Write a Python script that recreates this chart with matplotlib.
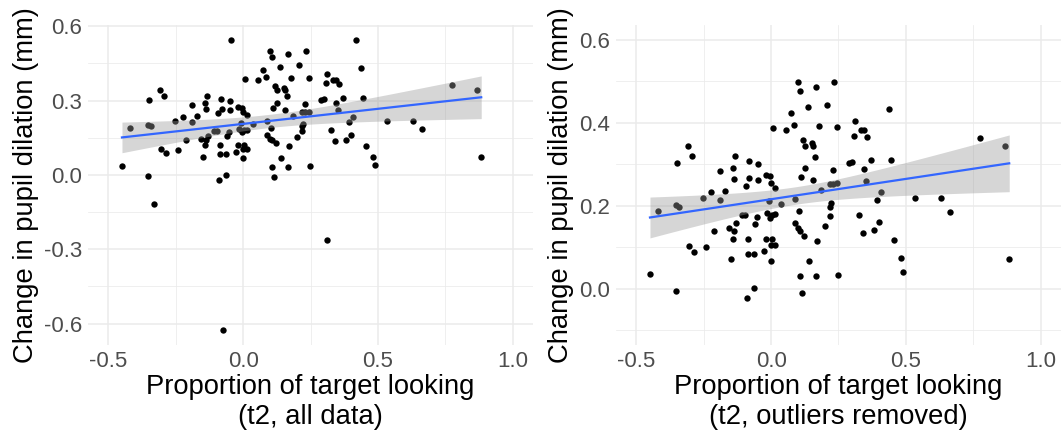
# scatter of pupil dilation vs target looking, with lm fit and 95% band

import matplotlib
matplotlib.use("Agg")
import numpy as np
import matplotlib.pyplot as plt
from matplotlib.ticker import MultipleLocator

plt.rcParams["font.family"] = ["Liberation Sans", "DejaVu Sans"]

# proportion of target looking (t2) and change in pupil dilation (mm), outliers removed
x_clean = [-0.449, -0.421, -0.354, -0.354, -0.343, -0.348, -0.309, -0.293, -0.305, -0.285,
           -0.253, -0.241, -0.224, -0.211, -0.191, -0.188, -0.172, -0.155, -0.149, -0.142,
           -0.138, -0.134, -0.142, -0.137, -0.129, -0.108, -0.097, -0.094, -0.083, -0.080,
           -0.085, -0.087, -0.065, -0.089, -0.065, -0.059, -0.052, -0.049, -0.050, -0.025,
           -0.018, -0.018, -0.014, -0.009, -0.004, -0.001, -0.005, -0.001, 0.001, 0.004,
           0.006, 0.005, 0.014, 0.016, 0.016, 0.035, 0.055, 0.074, 0.084, 0.087,
           0.090, 0.098, 0.108, 0.104, 0.099, 0.106, 0.108, 0.112, 0.116, 0.119,
           0.124, 0.121, 0.124, 0.138, 0.142, 0.152, 0.155, 0.157, 0.162, 0.167,
           0.168, 0.172, 0.176, 0.186, 0.201, 0.206, 0.219, 0.221, 0.219, 0.219,
           0.231, 0.234, 0.231, 0.246, 0.249, 0.244, 0.288, 0.300, 0.307, 0.310,
           0.325, 0.335, 0.344, 0.340, 0.345, 0.352, 0.356, 0.369, 0.381, 0.391,
           0.399, 0.407, 0.436, 0.445, 0.456, 0.481, 0.491, 0.535, 0.629, 0.663,
           0.773, 0.866, 0.883]
y_clean = [0.037, 0.188, -0.004, 0.201, 0.196, 0.304, 0.344, 0.320, 0.103, 0.089,
           0.219, 0.100, 0.232, 0.140, 0.283, 0.215, 0.236, 0.146, 0.073, 0.290,
           0.264, 0.319, 0.121, 0.140, 0.158, 0.178, 0.177, 0.248, 0.307, 0.266,
           0.119, 0.085, 0.084, -0.021, 0.001, 0.157, 0.172, 0.263, 0.300, 0.091,
           0.119, 0.275, 0.183, 0.211, 0.271, 0.255, 0.171, 0.067, 0.105, 0.121,
           0.387, 0.179, 0.105, 0.242, 0.180, 0.205, 0.383, 0.423, 0.395, 0.159,
           0.217, 0.499, 0.477, 0.188, 0.146, 0.140, 0.030, 0.269, -0.009, 0.359,
           0.344, 0.127, 0.291, 0.437, 0.066, 0.351, 0.343, 0.263, 0.317, 0.032,
           0.486, 0.116, 0.391, 0.238, 0.152, 0.443, 0.176, 0.207, 0.197, 0.252,
           0.285, 0.499, 0.253, 0.389, 0.034, 0.254, 0.304, 0.306, 0.369, 0.405,
           0.179, 0.383, 0.383, 0.135, 0.288, 0.260, 0.366, 0.309, 0.142, 0.214,
           0.162, 0.233, 0.432, 0.309, 0.117, 0.074, 0.041, 0.218, 0.218, 0.185,
           0.364, 0.344, 0.071]

# the points that were dropped as outliers
x_outliers = [-0.044, 0.418, -0.073, 0.310, -0.329]
y_outliers = [0.544, 0.546, -0.628, -0.262, -0.118]

x_all = x_clean + x_outliers
y_all = y_clean + y_outliers

x_ticks = [-0.5, 0.0, 0.5, 1.0]
y_ticks_all = [-0.6, -0.3, 0.0, 0.3, 0.6]
y_ticks_clean = [0.0, 0.2, 0.4, 0.6]

t_crit = 1.979  # t quantile for 95% band, df about 125


def lm_band(x, y):
    # straight line fit and its 95% confidence band
    x = np.asarray(x)
    y = np.asarray(y)
    n = len(x)
    slope, intercept = np.polyfit(x, y, 1)
    resid = y - (intercept + slope * x)
    s = np.sqrt(np.sum(resid ** 2) / (n - 2))
    sxx = np.sum((x - x.mean()) ** 2)
    xs = np.linspace(x.min(), x.max(), 80)
    fit = intercept + slope * xs
    se = s * np.sqrt(1 / n + (xs - x.mean()) ** 2 / sxx)
    return xs, fit, fit - t_crit * se, fit + t_crit * se


def draw_panel(ax, x, y, y_ticks, y_minor, ylim, xlabel):
    ax.scatter(x, y, s=21, color="black", linewidths=0, zorder=2)
    xs, fit, lo, hi = lm_band(x, y)
    ax.fill_between(xs, lo, hi, color="#999999", alpha=0.4, linewidth=0, zorder=3)
    ax.plot(xs, fit, color="#3366FF", linewidth=1.6, zorder=4)

    ax.set_xlim(-0.575, 1.075)
    ax.set_ylim(*ylim)
    ax.set_xticks(x_ticks)
    ax.set_xticklabels(["-0.5", "0.0", "0.5", "1.0"])
    ax.set_yticks(y_ticks)
    ax.set_yticklabels(["%.1f" % v for v in y_ticks])
    ax.xaxis.set_minor_locator(MultipleLocator(0.25))
    ax.yaxis.set_minor_locator(MultipleLocator(y_minor))

    # theme_minimal look
    ax.grid(which="major", color="#EBEBEB", linewidth=1.1, zorder=0)
    ax.grid(which="minor", color="#EBEBEB", linewidth=0.55, zorder=0)
    ax.set_axisbelow(True)
    for side in ax.spines.values():
        side.set_visible(False)
    ax.tick_params(which="both", length=0)
    ax.tick_params(axis="x", pad=4, labelsize=16, labelcolor="#4D4D4D")
    ax.tick_params(axis="y", pad=4, labelsize=16, labelcolor="#4D4D4D")
    ax.set_xlabel(xlabel, fontsize=19.7, linespacing=1.2, labelpad=2)
    ax.set_ylabel("Change in pupil dilation (mm)", fontsize=19.7, labelpad=4)


fig = plt.figure(figsize=(10.62, 4.34), dpi=100)
ax1 = fig.add_axes([88 / 1062, 89 / 434, 445 / 1062, 320 / 434])
ax2 = fig.add_axes([616 / 1062, 89 / 434, 445 / 1062, 320 / 434])

# y limits padded 5% like ggplot
span = max(y_all) - min(y_all)
draw_panel(ax1, x_all, y_all, y_ticks_all, 0.15,
           (min(y_all) - 0.05 * span, max(y_all) + 0.05 * span),
           "Proportion of target looking\n(t2, all data)")
draw_panel(ax2, x_clean, y_clean, y_ticks_clean, 0.1,
           (-0.135, 0.635),
           "Proportion of target looking\n(t2, outliers removed)")

fig.savefig("out.png", dpi=100)
